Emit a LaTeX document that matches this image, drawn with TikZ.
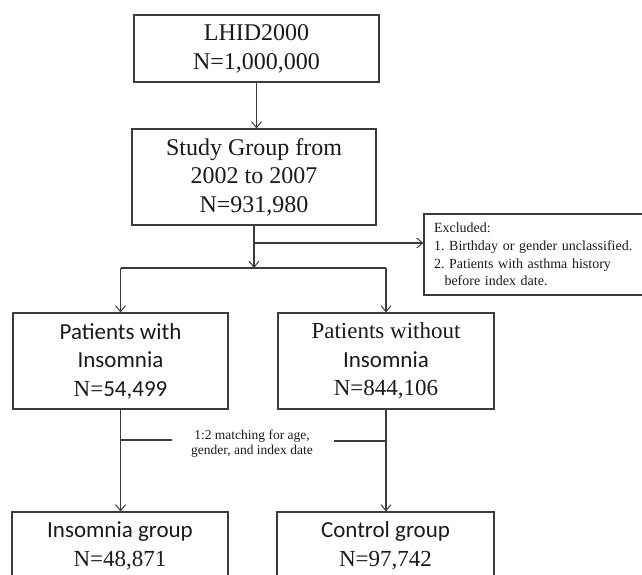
\documentclass[tikz,border=0pt]{standalone}
\usepackage{fontspec}
\setmainfont{Liberation Serif}
\newfontfamily\carl{Carlito}
\frenchspacing
\usetikzlibrary{arrows.meta}
\definecolor{lin}{HTML}{3C3C3C}
\definecolor{txt}{HTML}{1A1A1A}
\tikzset{
  box/.style={draw=lin, line width=1.1pt, rectangle, inner sep=0pt, align=center, text=txt},
  conn/.style={draw=lin, line width=1.1pt},
  arr/.style={conn, -{Straight Barb[length=6pt,width=10pt,line width=1pt]}},
  big/.style={font=\fontsize{24}{29}\selectfont},
  mid/.style={font=\fontsize{23}{28.5}\selectfont},
}
\begin{document}
\begin{tikzpicture}[x=1pt,y=-1pt]
\useasboundingbox (0,0) rectangle (642,574);
\clip (0,0) rectangle (642,574);
\node[box,big,minimum width=245pt,minimum height=67pt] (b1) at (256.5,48.5) {LHID2000\\N=1,000,000};
\node[box,font=\fontsize{24}{28.5}\selectfont,minimum width=244pt,minimum height=96pt] (b2) at (254,177) {Study Group from\\2002 to 2007\\N=931,980};
\node[box,font=\fontsize{14}{17.6}\selectfont,minimum width=226pt,minimum height=81pt,text width=206pt,align=left] (ex) at (537,254.5) {Excluded:\\1. Birthday or gender unclassified.\\2. Patients with asthma history\\\hspace*{10.5pt}before index date.};
\node[box,mid,minimum width=215pt,minimum height=96pt] (pl) at (120.5,361) {{\carl Patients with}\\{\carl Insomnia}\\N={\carl 54,499}};
\node[box,mid,minimum width=216pt,minimum height=96pt] (pr) at (386,361) {Patients without\\{\carl Insomnia}\\N=844,106};
\node[text=txt,align=center,font=\fontsize{13.5}{15}\selectfont,inner sep=0pt] (mt) at (252,443.5) {1:2 matching for age,\\gender, and index date};
\node[box,mid,minimum width=216pt,minimum height=68pt] (cl) at (120,546) {{\carl Insomnia group}\\N=48,871};
\node[box,mid,minimum width=217pt,minimum height=68pt] (cr) at (385.5,546) {{\carl Control group}\\N=97,742};
\coordinate (sp) at (254,268);
\coordinate (br) at (254,243);
\coordinate (ml) at (172,440);
\coordinate (mr) at (334,441);
\draw[arr] (b1.south) -- (b1.south |- b2.north);
\draw[arr] (b2.south) -- (sp);
\draw[arr] (br) -- (ex.west |- br);
\draw[conn] (pl.north |- sp) -- (pr.north |- sp);
\draw[arr] (pl.north |- sp) -- (pl.north);
\draw[arr] (pr.north |- sp) -- (pr.north);
\draw[arr] (pl.south) -- (cl.north -| pl.south);
\draw[arr] (pr.south) -- (cr.north -| pr.south);
\draw[conn] (pl.south |- ml) -- (ml);
\draw[conn] (mr) -- (pr.south |- mr);
\end{tikzpicture}
\end{document}
